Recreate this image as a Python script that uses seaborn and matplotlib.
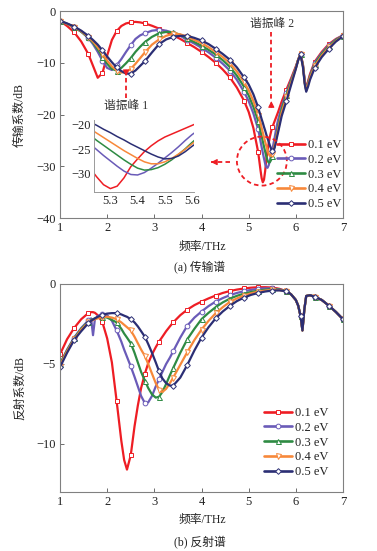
import numpy as np
import pandas as pd
import matplotlib
matplotlib.use("Agg")
import matplotlib.pyplot as plt
import seaborn as sns
from matplotlib.patches import Ellipse
from matplotlib.lines import Line2D

# ---------------- data ----------------
labels = ["0.1 eV", "0.2 eV", "0.3 eV", "0.4 eV", "0.5 eV"]

freq_T = [1.0, 1.15, 1.3, 1.45, 1.6, 1.7, 1.8, 1.9, 2.0, 2.1,
          2.2, 2.3, 2.4, 2.5, 2.6, 2.7, 2.8, 2.95, 3.1, 3.25,
          3.4, 3.55, 3.7, 3.85, 4.0, 4.15, 4.3, 4.45, 4.6, 4.75,
          4.9, 5.0, 5.1, 5.2, 5.225, 5.25, 5.275, 5.3, 5.325, 5.35,
          5.375, 5.4, 5.425, 5.45, 5.475, 5.5, 5.525, 5.55, 5.575, 5.6,
          5.625, 5.7, 5.8, 5.9, 6.0, 6.05, 6.1, 6.15, 6.19, 6.22,
          6.26, 6.3, 6.4, 6.55, 6.7, 6.85, 7.0]

T_01 = [-1.9, -2.9, -4.1, -5.9, -8.3, -10.6, -12.9, -12.0, -8.6, -5.6,
        -3.9, -2.9, -2.4, -2.2, -2.1, -2.2, -2.4, -2.85, -3.4, -4.0,
        -4.7, -5.4, -6.2, -7.0, -7.9, -8.9, -10.0, -11.3, -12.8, -14.8,
        -17.3, -19.5, -22.6, -27.2, -28.9, -30.7, -32.3, -33.1, -32.6, -30.9,
        -28.6, -27.0, -25.5, -24.3, -23.3, -22.5, -21.9, -21.3, -20.7, -20.1,
        -19.5, -17.5, -15.2, -13.0, -10.7, -9.4, -8.3, -10.3, -13.6, -15.0,
        -13.5, -12.2, -9.8, -7.9, -6.4, -5.4, -4.7]
T_02 = [-1.9, -2.5, -3.1, -4.0, -5.2, -6.4, -7.9, -9.6, -11.0, -11.4,
        -10.5, -9.3, -7.9, -6.6, -5.4, -4.7, -4.3, -3.8, -3.65, -3.8,
        -4.2, -4.8, -5.6, -6.3, -7.1, -8.0, -9.0, -10.2, -11.5, -13.3,
        -15.6, -17.4, -19.8, -22.8, -23.9, -25.1, -26.3, -27.4, -28.5, -29.5,
        -30.2, -30.3, -29.8, -28.9, -27.9, -26.8, -25.7, -24.5, -23.2, -22.0,
        -21.0, -18.5, -15.8, -13.3, -10.9, -9.4, -8.3, -10.4, -13.8, -15.2,
        -13.8, -12.5, -10.0, -8.1, -6.6, -5.5, -4.7]
T_03 = [-1.9, -2.5, -3.1, -4.0, -5.1, -6.1, -7.4, -8.8, -10.2, -11.2,
        -11.5, -11.0, -10.1, -9.1, -7.9, -6.9, -6.0, -5.0, -4.3, -4.05,
        -4.1, -4.6, -5.3, -6.0, -6.7, -7.5, -8.4, -9.5, -10.8, -12.5,
        -14.6, -16.3, -18.5, -21.2, -22.1, -23.2, -24.2, -25.2, -26.2, -27.2,
        -28.1, -28.9, -29.3, -29.2, -28.8, -28.1, -27.2, -26.1, -24.9, -23.6,
        -22.4, -19.0, -16.2, -13.6, -11.0, -9.4, -8.3, -10.5, -13.9, -15.3,
        -14.0, -12.7, -10.3, -8.3, -6.8, -5.6, -4.8]
T_04 = [-1.9, -2.5, -3.1, -3.9, -5.0, -5.9, -7.0, -8.3, -9.6, -10.7,
        -11.5, -11.9, -11.8, -11.2, -10.2, -9.1, -8.0, -6.5, -5.5, -4.8,
        -4.4, -4.5, -5.0, -5.6, -6.2, -7.0, -7.9, -8.9, -10.1, -11.7,
        -13.7, -15.3, -17.4, -20.0, -20.8, -21.7, -22.6, -23.5, -24.4, -25.3,
        -26.1, -26.9, -27.6, -28.0, -28.0, -27.6, -26.9, -26.0, -25.0, -23.9,
        -22.9, -19.6, -16.7, -13.9, -11.1, -9.4, -8.3, -10.6, -14.0, -15.4,
        -14.2, -12.9, -10.6, -8.6, -7.0, -5.8, -4.8]
T_05 = [-1.9, -2.4, -3.0, -3.8, -4.8, -5.6, -6.5, -7.6, -8.8, -9.9,
        -10.9, -11.6, -12.1, -12.1, -11.5, -10.6, -9.7, -8.0, -6.4, -5.5,
        -5.0, -4.8, -4.8, -5.2, -5.7, -6.4, -7.3, -8.3, -9.4, -10.9,
        -12.8, -14.2, -16.1, -18.6, -19.4, -20.1, -20.9, -21.6, -22.4, -23.1,
        -23.9, -24.6, -25.3, -26.0, -26.6, -27.0, -26.9, -26.4, -25.5, -24.4,
        -23.4, -20.3, -17.4, -14.3, -11.2, -9.5, -8.4, -10.8, -14.2, -15.6,
        -14.6, -13.3, -11.0, -8.9, -7.3, -5.9, -4.9]

freq_R = [1.0, 1.15, 1.3, 1.45, 1.6, 1.66, 1.7, 1.74, 1.8, 1.9,
          2.0, 2.1, 2.2, 2.3, 2.36, 2.42, 2.5, 2.58, 2.65, 2.72,
          2.8, 2.87, 2.95, 3.03, 3.1, 3.17, 3.25, 3.33, 3.4, 3.55,
          3.7, 3.85, 4.0, 4.15, 4.3, 4.45, 4.6, 4.75, 4.9, 5.05,
          5.2, 5.35, 5.5, 5.65, 5.8, 5.9, 6.0, 6.05, 6.1, 6.14,
          6.18, 6.22, 6.3, 6.4, 6.55, 6.7, 6.85, 7.0]

R_01 = [-4.4, -3.45, -2.75, -2.2, -1.82, -1.76, -1.76, -1.8, -1.95, -2.4,
        -3.4, -4.9, -7.3, -9.8, -11.0, -11.6, -10.7, -8.9, -7.6, -6.5,
        -5.6, -4.95, -4.4, -3.95, -3.6, -3.3, -2.95, -2.65, -2.4, -1.95,
        -1.6, -1.32, -1.1, -0.9, -0.72, -0.56, -0.44, -0.35, -0.28, -0.23,
        -0.2, -0.2, -0.22, -0.3, -0.45, -0.65, -1.0, -1.35, -2.0, -2.9,
        -1.6, -0.75, -0.7, -0.8, -1.0, -1.35, -1.75, -2.2]
R_02 = [-5.0, -4.1, -3.35, -2.75, -2.28, -2.15, -3.2, -2.2, -2.0, -1.88,
        -1.95, -2.3, -2.9, -3.6, -4.1, -4.55, -5.15, -5.8, -6.4, -7.0,
        -7.45, -7.4, -7.0, -6.4, -5.95, -5.5, -5.0, -4.6, -4.2, -3.35,
        -2.6, -2.1, -1.72, -1.38, -1.1, -0.88, -0.7, -0.56, -0.45, -0.37,
        -0.3, -0.27, -0.28, -0.33, -0.45, -0.65, -1.0, -1.35, -2.0, -2.9,
        -1.6, -0.75, -0.7, -0.8, -1.0, -1.35, -1.75, -2.2]
R_03 = [-5.0, -4.15, -3.4, -2.8, -2.35, -2.25, -2.2, -2.15, -2.1, -2.05,
        -2.1, -2.25, -2.4, -2.8, -3.1, -3.35, -3.7, -4.3, -4.9, -5.5,
        -6.05, -6.5, -6.9, -7.1, -7.05, -6.75, -6.25, -5.7, -5.25, -4.3,
        -3.45, -2.8, -2.2, -1.8, -1.45, -1.15, -0.92, -0.74, -0.6, -0.5,
        -0.42, -0.36, -0.32, -0.35, -0.45, -0.65, -1.0, -1.35, -2.0, -2.9,
        -1.6, -0.75, -0.7, -0.8, -1.0, -1.35, -1.75, -2.2]
R_04 = [-5.1, -4.2, -3.45, -2.85, -2.4, -2.3, -2.25, -2.2, -2.15, -2.05,
        -2.05, -2.1, -2.2, -2.4, -2.55, -2.7, -2.9, -3.3, -3.7, -4.1,
        -4.5, -5.0, -5.6, -6.2, -6.6, -6.75, -6.55, -6.2, -5.85, -5.05,
        -4.25, -3.5, -2.85, -2.3, -1.83, -1.45, -1.12, -0.9, -0.72, -0.58,
        -0.48, -0.41, -0.36, -0.38, -0.45, -0.65, -1.0, -1.35, -2.0, -2.9,
        -1.6, -0.75, -0.7, -0.8, -1.0, -1.35, -1.75, -2.2]
R_05 = [-5.2, -4.3, -3.5, -2.95, -2.45, -2.3, -2.22, -2.15, -2.05, -1.92,
        -1.85, -1.82, -1.82, -1.9, -1.98, -2.05, -2.2, -2.4, -2.65, -2.95,
        -3.3, -3.75, -4.3, -4.9, -5.45, -5.9, -6.2, -6.35, -6.35, -5.85,
        -5.05, -4.15, -3.35, -2.7, -2.15, -1.72, -1.37, -1.07, -0.85, -0.68,
        -0.56, -0.47, -0.41, -0.4, -0.45, -0.65, -1.0, -1.35, -2.0, -2.9,
        -1.6, -0.75, -0.7, -0.8, -1.0, -1.35, -1.75, -2.2]

T_series = [T_01, T_02, T_03, T_04, T_05]
R_series = [R_01, R_02, R_03, R_04, R_05]

colors = ["#EE1D24", "#6A5BB8", "#2E8B43", "#F7883A", "#2B2E74"]
markers = ["s", "o", "^", "v", "D"]
msizes = [3.3, 3.4, 3.6, 3.6, 2.9]

# ---------------- style ----------------
sns.set_style("ticks")
plt.rcParams["font.family"] = ["Liberation Serif", "Noto Sans CJK SC"]
plt.rcParams["axes.unicode_minus"] = True

W, H = 377, 551
fig = plt.figure(figsize=(W / 100, H / 100), dpi=100)


def px_axes(l, t, r, b):
    return fig.add_axes([l / W, 1 - b / H, (r - l) / W, (b - t) / H])


axT = px_axes(60, 11, 343, 218)
axR = px_axes(60, 284, 343, 492)
axI = px_axes(94, 120, 194, 192)

SPINE = "#808080"
TXT = "#222222"
RED = "#EE1D24"


def marker_idx(x):
    return [i for i, v in enumerate(x) if abs((v - 1) / 0.3 - round((v - 1) / 0.3)) < 1e-6]


def draw(ax, x, series, with_markers, lw):
    idx = marker_idx(x)
    for lab, y, c, m, s in zip(labels, series, colors, markers, msizes):
        df = pd.DataFrame({"f": x, "v": y})
        kw = {}
        if with_markers:
            kw = dict(marker=m, markevery=idx, ms=s, mfc="white", mec=c, mew=0.7)
        sns.lineplot(data=df, x="f", y="v", ax=ax, color=c, lw=lw,
                     estimator=None, sort=False, legend=False, **kw)
    ax.set_xlabel("")
    ax.set_ylabel("")


draw(axT, freq_T, T_series, True, 1.6)
draw(axR, freq_R, R_series, True, 1.6)
draw(axI, freq_T, T_series, False, 1.1)

for ax in (axT, axR):
    ax.set_xlim(1, 7)
    ax.set_xticks([1, 2, 3, 4, 5, 6, 7])
    for s in ax.spines.values():
        s.set_color(SPINE)
        s.set_linewidth(0.8)
    ax.tick_params(direction="in", length=3, width=0.6, color="#555555",
                   labelsize=9, labelcolor=TXT, pad=3)

axT.set_ylim(-40, 0)
axT.set_yticks([0, -10, -20, -30, -40])
axR.set_ylim(-13, 0)
axR.set_yticks([0, -5, -10])

# inset
axI.set_xlim(5.24, 5.607)
axI.set_ylim(-33.8, -19.0)
axI.set_xticks([5.3, 5.4, 5.5, 5.6])
axI.set_yticks([-20, -25, -30])
axI.patch.set_alpha(0)
for side in ("top", "right"):
    axI.spines[side].set_visible(False)
for side in ("left", "bottom"):
    axI.spines[side].set_color("#9a9a9a")
    axI.spines[side].set_linewidth(0.7)
axI.tick_params(length=0, labelsize=9, labelcolor=TXT, pad=2)

# legends
def legend_handles():
    return [Line2D([0], [0], color=c, lw=1.9, marker=m, ms=s, mfc="white", mec=c, mew=0.7)
            for c, m, s in zip(colors, markers, msizes)]


leg_kw = dict(loc="upper left", frameon=False, fontsize=9, handlelength=2.25,
              handletextpad=0.2, labelspacing=0.22, borderpad=0, borderaxespad=0,
              numpoints=1)
lg1 = axT.legend(legend_handles(), labels, bbox_to_anchor=(277 / W, 1 - 139 / H),
                 bbox_transform=fig.transFigure, **leg_kw)
lg2 = axR.legend(legend_handles(), labels, bbox_to_anchor=(264 / W, 1 - 407 / H),
                 bbox_transform=fig.transFigure, **leg_kw)
for lg in (lg1, lg2):
    for t in lg.get_texts():
        t.set_color(TXT)

# annotations (top panel)
def dashed_arrow(ax, x0, y0, x1, y1, hx, hy):
    ax.plot([x0, x1], [y0, y1], color=RED, lw=1.3, ls=(0, (2.5, 1.8)))
    ax.annotate("", xy=(x1, y1), xytext=(x1 - hx, y1 - hy),
                arrowprops=dict(arrowstyle="-|>", color=RED, lw=0.8,
                                mutation_scale=9, shrinkA=0, shrinkB=0))


dashed_arrow(axT, 2.40, -16.8, 2.40, -12.6, 0, -1.2)
dashed_arrow(axT, 5.48, -4.1, 5.48, -17.4, 0, 1.2)
dashed_arrow(axT, 4.60, -29.2, 4.20, -29.2, -0.12, 0)

axT.text(2.40, -18.4, "谐振峰 1", ha="center", va="center", fontsize=8.5, color="#333333")
axT.text(5.49, -2.5, "谐振峰 2", ha="center", va="center", fontsize=8.5, color="#333333")

axT.add_patch(Ellipse((5.28, -29.0), width=50 / 47.2, height=49 / 5.175,
                      fill=False, edgecolor=RED, lw=1.3, ls=(0, (2.5, 1.8)), zorder=5))

# axis labels and captions
fig.text(20 / W, 1 - 115 / H, "传输系数/dB", rotation=90, ha="center", va="center",
         fontsize=8.5, color=TXT)
fig.text(20 / W, 1 - 388 / H, "反射系数/dB", rotation=90, ha="center", va="center",
         fontsize=8.5, color=TXT)
fig.text(202 / W, 1 - 247 / H, "频率/THz", ha="center", va="center", fontsize=8.5, color=TXT)
fig.text(202 / W, 1 - 520 / H, "频率/THz", ha="center", va="center", fontsize=8.5, color=TXT)
fig.text(200 / W, 1 - 268 / H, "(a) 传输谱", ha="center", va="center", fontsize=8.5, color=TXT)
fig.text(200 / W, 1 - 543 / H, "(b) 反射谱", ha="center", va="center", fontsize=8.5, color=TXT)

fig.savefig("out.png", dpi=100, facecolor="white")
